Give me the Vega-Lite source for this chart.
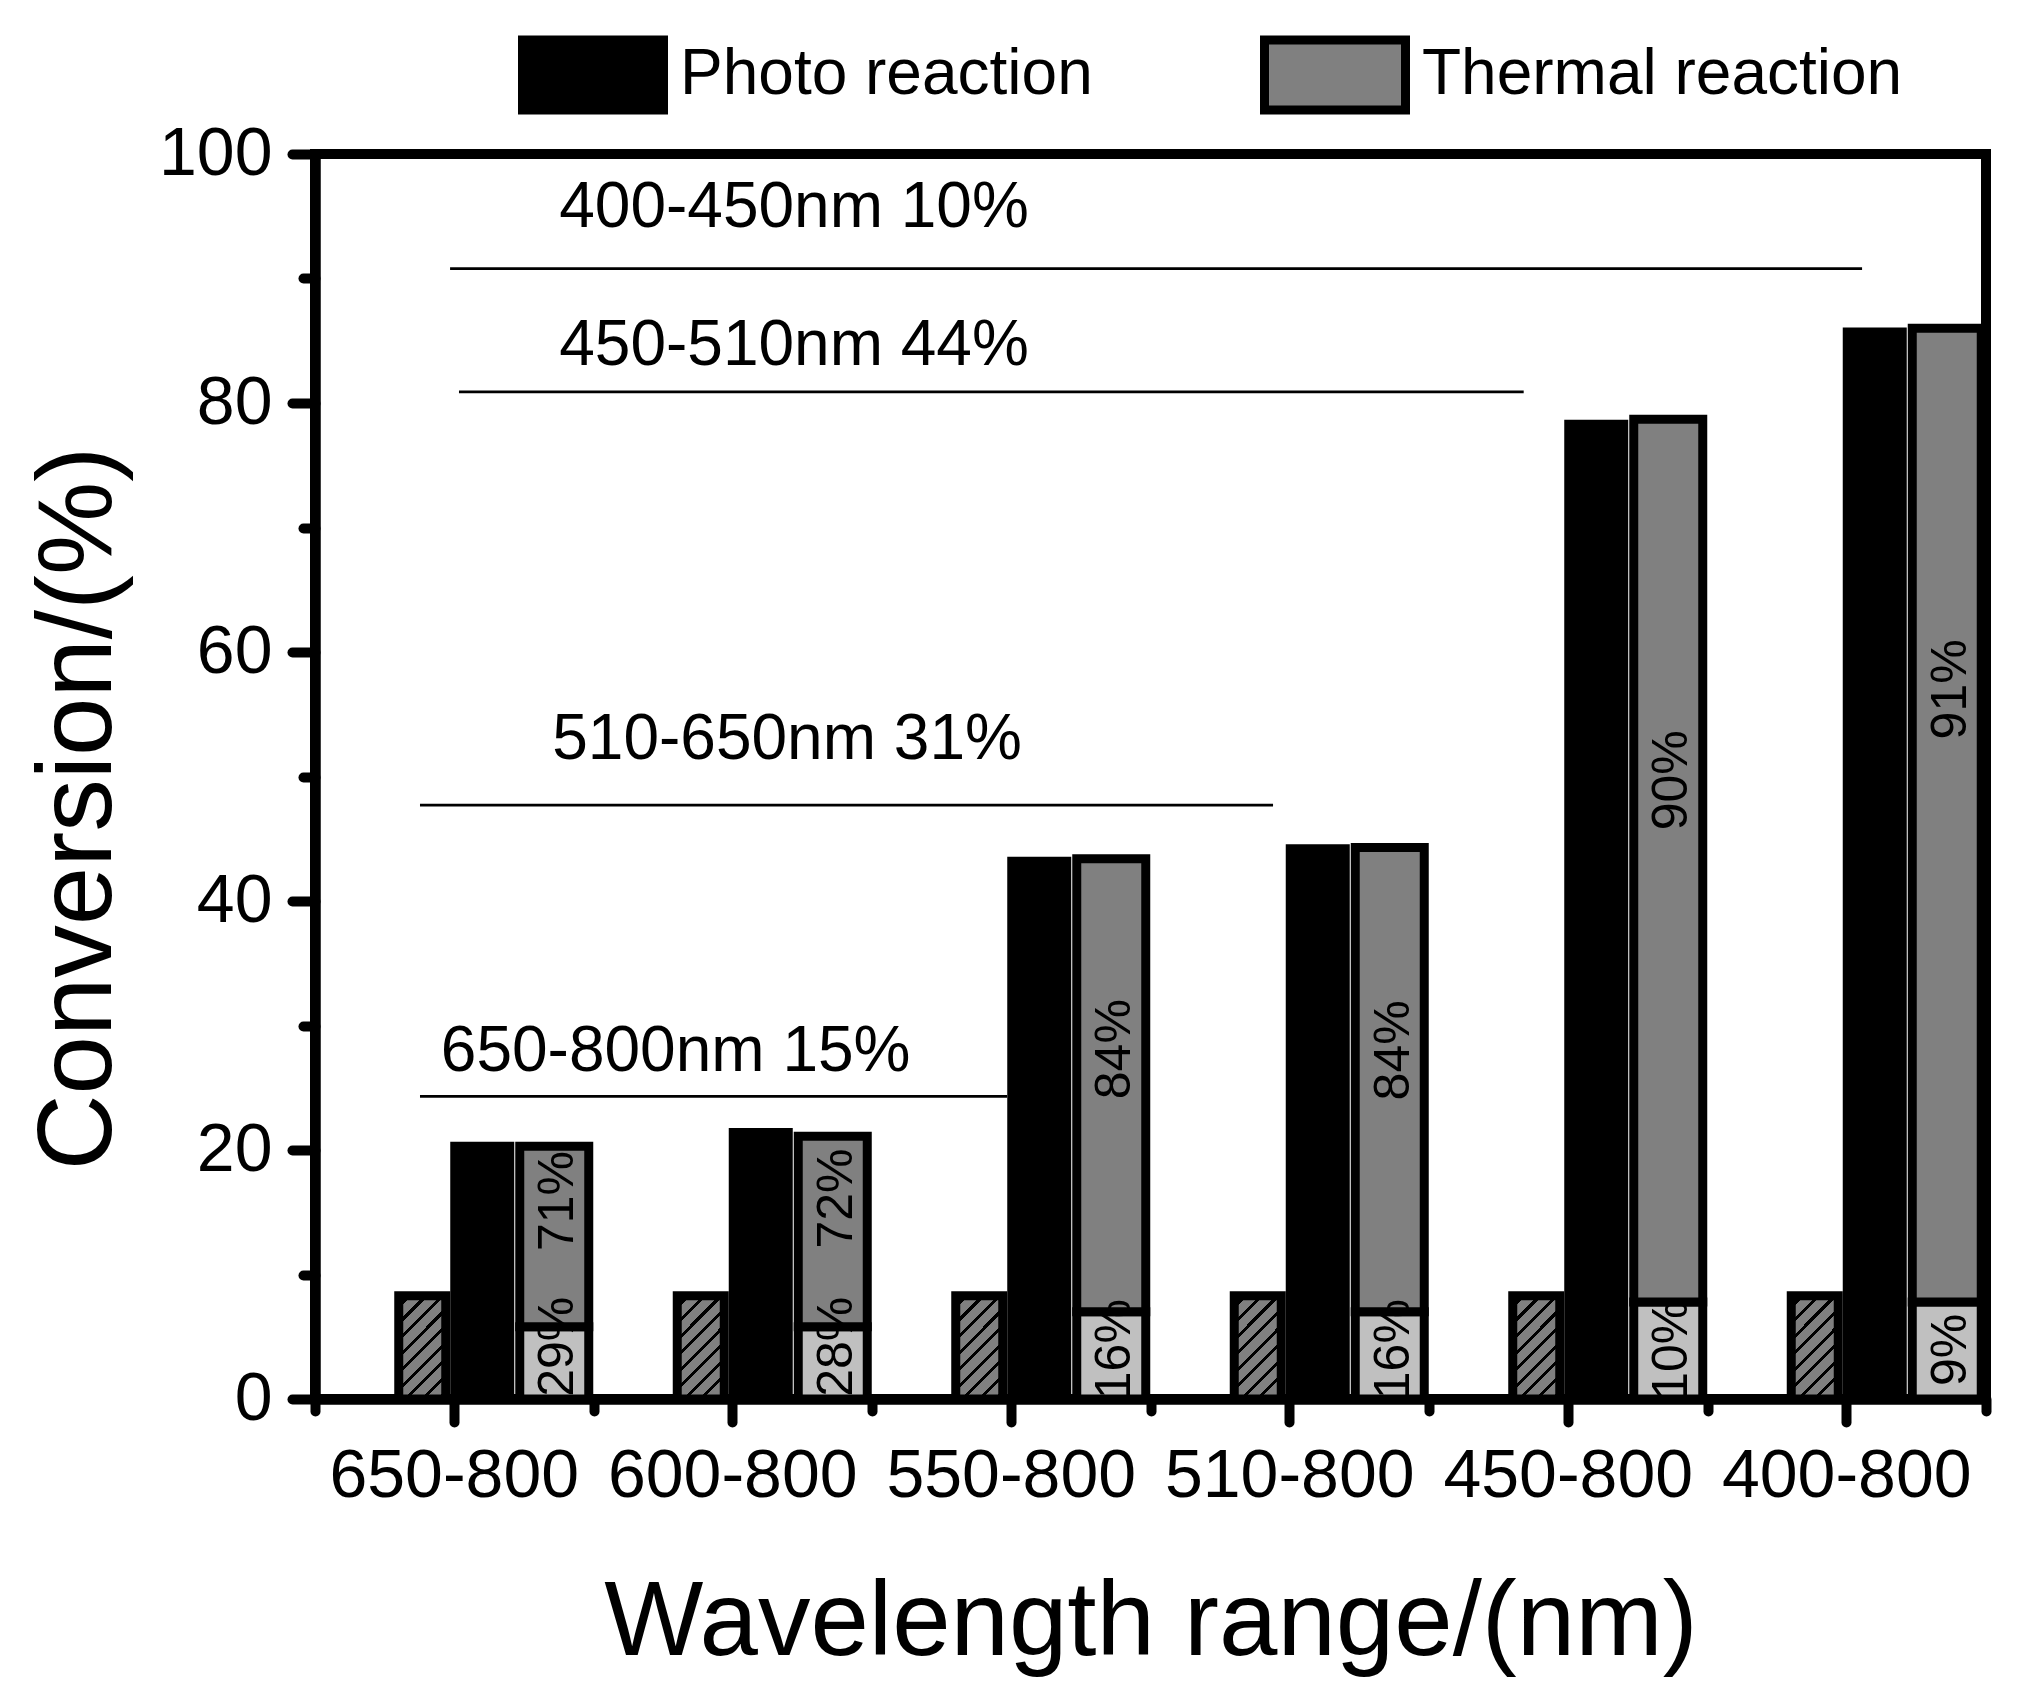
{
  "$schema": "https://vega.github.io/schema/vega-lite/v6.json",
  "width": 1671,
  "height": 1245,
  "autosize": "none",
  "padding": {"left": 315, "top": 154, "right": 43, "bottom": 300},
  "background": "white",
  "config": {
    "font": "Liberation Sans",
    "view": {"stroke": "black", "strokeWidth": 10},
    "axis": {
      "domainColor": "black", "domainWidth": 10,
      "tickColor": "black", "tickWidth": 10, "tickCap": "round",
      "labelColor": "black", "titleColor": "black", "titleFontWeight": "normal",
      "labelFont": "Liberation Sans", "titleFont": "Liberation Sans",
      "grid": false, "zindex": 1
    }
  },
  "datasets": {
    "groups": [
      {"range": "650-800", "photo": 20.3, "thermal": 8.3},
      {"range": "600-800", "photo": 21.4, "thermal": 8.3},
      {"range": "550-800", "photo": 43.2, "thermal": 8.3},
      {"range": "510-800", "photo": 44.2, "thermal": 8.3},
      {"range": "450-800", "photo": 78.3, "thermal": 8.3},
      {"range": "400-800", "photo": 85.7, "thermal": 8.3}
    ],
    "split": [
      {"range": "650-800", "part": "lower", "amount": 5.8, "pct": "29%", "label_at": 4.2},
      {"range": "650-800", "part": "upper", "amount": 14.5, "pct": "71%", "label_at": 15.9},
      {"range": "600-800", "part": "lower", "amount": 5.8, "pct": "28%", "label_at": 4.2},
      {"range": "600-800", "part": "upper", "amount": 15.3, "pct": "72%", "label_at": 16.1},
      {"range": "550-800", "part": "lower", "amount": 7.0, "pct": "16%", "label_at": 4.0},
      {"range": "550-800", "part": "upper", "amount": 36.4, "pct": "84%", "label_at": 28.1},
      {"range": "510-800", "part": "lower", "amount": 7.0, "pct": "16%", "label_at": 4.0},
      {"range": "510-800", "part": "upper", "amount": 37.3, "pct": "84%", "label_at": 28.0},
      {"range": "450-800", "part": "lower", "amount": 7.8, "pct": "10%", "label_at": 3.95},
      {"range": "450-800", "part": "upper", "amount": 70.9, "pct": "90%", "label_at": 49.7},
      {"range": "400-800", "part": "lower", "amount": 7.8, "pct": "9%", "label_at": 3.95},
      {"range": "400-800", "part": "upper", "amount": 78.2, "pct": "91%", "label_at": 57.0}
    ],
    "bands": [
      {"label": "400-450nm 10%", "label_x": 2.22, "label_y": 95.7, "line_from": 0.985, "line_to": 6.055, "line_y": 90.8},
      {"label": "450-510nm 44%", "label_x": 2.22, "label_y": 84.6, "line_from": 1.017, "line_to": 4.84, "line_y": 80.9},
      {"label": "510-650nm 31%", "label_x": 2.195, "label_y": 52.9, "line_from": 0.877, "line_to": 3.94, "line_y": 47.7},
      {"label": "650-800nm 15%", "label_x": 1.795, "label_y": 27.9, "line_from": 0.877, "line_to": 2.985, "line_y": 24.3}
    ]
  },
  "layer": [
    {
      "data": {"name": "groups"},
      "mark": {
        "type": "bar", "width": 47, "xOffset": -32, "stroke": "black", "strokeWidth": 9,
        "fill": {
          "gradient": "linear", "x1": 0, "y1": 0, "x2": 0.55, "y2": 1.205,
          "stops": [
            {"offset": 0, "color": "#808080"},
            {"offset": 0.060, "color": "#808080"}, {"offset": 0.060, "color": "#000000"}, {"offset": 0.088, "color": "#000000"}, {"offset": 0.088, "color": "#808080"},
            {"offset": 0.170, "color": "#808080"}, {"offset": 0.170, "color": "#000000"}, {"offset": 0.198, "color": "#000000"}, {"offset": 0.198, "color": "#808080"},
            {"offset": 0.280, "color": "#808080"}, {"offset": 0.280, "color": "#000000"}, {"offset": 0.308, "color": "#000000"}, {"offset": 0.308, "color": "#808080"},
            {"offset": 0.390, "color": "#808080"}, {"offset": 0.390, "color": "#000000"}, {"offset": 0.418, "color": "#000000"}, {"offset": 0.418, "color": "#808080"},
            {"offset": 0.500, "color": "#808080"}, {"offset": 0.500, "color": "#000000"}, {"offset": 0.528, "color": "#000000"}, {"offset": 0.528, "color": "#808080"},
            {"offset": 0.610, "color": "#808080"}, {"offset": 0.610, "color": "#000000"}, {"offset": 0.638, "color": "#000000"}, {"offset": 0.638, "color": "#808080"},
            {"offset": 0.720, "color": "#808080"}, {"offset": 0.720, "color": "#000000"}, {"offset": 0.748, "color": "#000000"}, {"offset": 0.748, "color": "#808080"},
            {"offset": 0.830, "color": "#808080"}, {"offset": 0.830, "color": "#000000"}, {"offset": 0.858, "color": "#000000"}, {"offset": 0.858, "color": "#808080"},
            {"offset": 0.940, "color": "#808080"}, {"offset": 0.940, "color": "#000000"}, {"offset": 0.968, "color": "#000000"}, {"offset": 0.968, "color": "#808080"},
            {"offset": 1, "color": "#808080"}
          ]
        }
      },
      "encoding": {
        "x": {
          "field": "range", "type": "nominal", "sort": null,
          "scale": {"paddingInner": 0, "paddingOuter": 0},
          "axis": {
            "title": "Wavelength range/(nm)", "titleFontSize": 105, "titleBaseline": "alphabetic", "titleY": 255,
            "labelFontSize": 68, "labelAngle": 0, "labelPadding": 20, "labelLimit": 1000, "tickSize": 23
          }
        },
        "y": {
          "field": "thermal", "type": "quantitative",
          "scale": {"domain": [0, 100], "nice": false},
          "axis": {
            "title": "Conversion/(%)", "titleFontSize": 105, "titleBaseline": "alphabetic",
            "titleX": -205, "titleY": 654, "titleAngle": 270,
            "values": [0, 20, 40, 60, 80, 100], "labelFontSize": 68, "labelPadding": 20, "tickSize": 23
          }
        }
      }
    },
    {
      "data": {"name": "groups"},
      "mark": {"type": "bar", "width": 55, "xOffset": 28, "stroke": "black", "strokeWidth": 9},
      "encoding": {
        "x": {
          "field": "range", "type": "nominal", "sort": null,
          "scale": {"paddingInner": 0, "paddingOuter": 0},
          "axis": {"orient": "bottom", "tickBand": "extent", "labels": false, "title": null, "tickSize": 12}
        },
        "y": {
          "field": "photo", "type": "quantitative",
          "axis": {"orient": "left", "values": [10, 30, 50, 70, 90], "labels": false, "title": null, "tickSize": 12}
        },
        "color": {
          "datum": "Photo reaction", "type": "nominal",
          "scale": {"domain": ["Photo reaction", "Thermal reaction"], "range": ["#000000", "#808080"]},
          "legend": {
            "title": null, "orient": "none", "legendX": 203, "legendY": -154, "direction": "horizontal",
            "symbolType": "M-1,-0.496H1V0.496H-1Z", "symbolSize": 19881,
            "symbolStrokeColor": "black", "symbolStrokeWidth": 9, "symbolOpacity": 1,
            "labelFontSize": 64, "labelFont": "Liberation Sans", "labelColor": "black",
            "labelOffset": 12, "labelLimit": 1000, "columnPadding": 153
          }
        }
      }
    },
    {
      "data": {"name": "split"},
      "mark": {"type": "bar", "width": 69, "xOffset": 100, "stroke": "black", "strokeWidth": 9},
      "encoding": {
        "x": {"field": "range", "type": "nominal", "sort": null, "scale": {"paddingInner": 0, "paddingOuter": 0}, "axis": null},
        "y": {"field": "amount", "type": "quantitative", "stack": "zero", "axis": null},
        "order": {"field": "part"},
        "color": {
          "field": "part", "type": "nominal",
          "scale": {"domain": ["lower", "upper"], "range": ["#c0c0c0", "#808080"]},
          "legend": null
        }
      }
    },
    {
      "data": {"name": "split"},
      "mark": {"type": "text", "angle": 270, "fontSize": 50, "xOffset": 104, "align": "center", "baseline": "middle", "color": "black"},
      "encoding": {
        "x": {"field": "range", "type": "nominal", "sort": null, "scale": {"paddingInner": 0, "paddingOuter": 0}, "axis": null},
        "y": {"field": "label_at", "type": "quantitative", "axis": null},
        "text": {"field": "pct"}
      }
    },
    {
      "data": {"name": "bands"},
      "mark": {"type": "rule", "color": "black", "strokeWidth": 2.7},
      "encoding": {
        "x": {"field": "line_from", "type": "quantitative", "scale": {"domain": [0.5, 6.5], "nice": false, "zero": false}, "axis": null},
        "x2": {"field": "line_to"},
        "y": {"field": "line_y", "type": "quantitative", "axis": null}
      }
    },
    {
      "data": {"name": "bands"},
      "mark": {"type": "text", "fontSize": 64, "align": "center", "baseline": "middle", "color": "black"},
      "encoding": {
        "x": {"field": "label_x", "type": "quantitative", "scale": {"domain": [0.5, 6.5], "nice": false, "zero": false}, "axis": null},
        "y": {"field": "label_y", "type": "quantitative", "axis": null},
        "text": {"field": "label"}
      }
    }
  ],
  "resolve": {
    "scale": {"x": "independent", "color": "independent"},
    "axis": {"x": "independent", "y": "independent"}
  }
}
